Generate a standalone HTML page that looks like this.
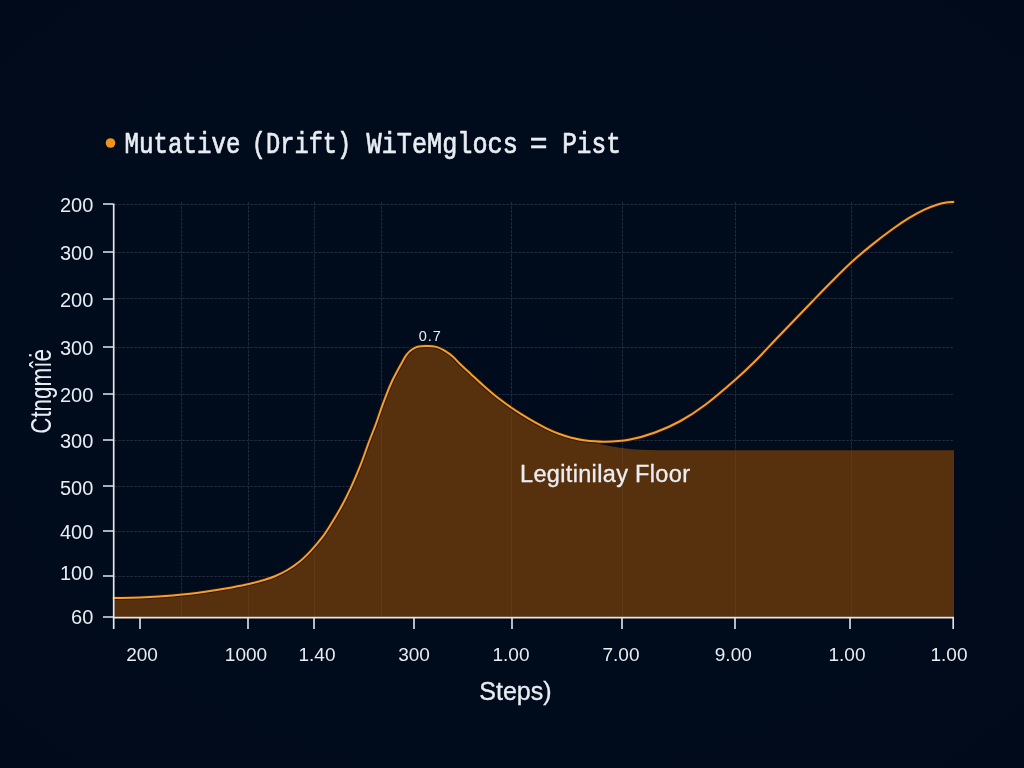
<!DOCTYPE html>
<html>
<head>
<meta charset="utf-8">
<title>Mutative (Drift)</title>
<style>
  html, body { margin: 0; padding: 0; width: 1024px; height: 768px; overflow: hidden; background: #000b1c; }
  svg { display: block; position: absolute; left: 0; top: 0; will-change: transform; }
  text { font-family: "Liberation Sans", sans-serif; fill: #e9edf3; }
  .mono, .mono text { font-family: "Liberation Mono", monospace; }
</style>
</head>
<body>
<svg width="1024" height="768" viewBox="0 0 1024 768">
  <defs>
    <radialGradient id="vig" cx="50%" cy="50%" r="75%">
      <stop offset="0%" stop-color="#000b1d"/>
      <stop offset="65%" stop-color="#000b1c"/>
      <stop offset="100%" stop-color="#000a1a"/>
    </radialGradient>
    <clipPath id="areaclip"><path d="M113.75 598.00 C116.79 597.97 125.96 597.95 132.00 597.80 C138.04 597.65 144.33 597.38 150.00 597.10 C155.67 596.82 160.58 596.53 166.00 596.10 C171.42 595.67 176.83 595.10 182.50 594.50 C188.17 593.90 194.58 593.20 200.00 592.50 C205.42 591.80 209.67 591.15 215.00 590.30 C220.33 589.45 226.17 588.49 232.00 587.40 C237.83 586.31 244.67 584.98 250.00 583.75 C255.33 582.52 259.83 581.25 264.00 580.00 C268.17 578.75 271.08 577.92 275.00 576.25 C278.92 574.58 283.33 572.50 287.50 570.00 C291.67 567.50 296.08 564.48 300.00 561.25 C303.92 558.02 307.33 554.52 311.00 550.60 C314.67 546.68 318.62 542.18 322.00 537.70 C325.38 533.23 327.97 529.03 331.25 523.75 C334.53 518.47 338.41 512.08 341.70 506.00 C344.99 499.93 347.88 494.07 351.00 487.30 C354.12 480.53 357.44 472.87 360.40 465.40 C363.36 457.93 366.15 449.44 368.75 442.50 C371.35 435.56 373.57 430.35 376.00 423.75 C378.43 417.15 380.68 409.86 383.30 402.90 C385.92 395.94 388.58 388.73 391.70 382.00 C394.82 375.27 399.53 367.03 402.00 362.50 C404.47 357.97 404.88 356.92 406.50 354.80 C408.12 352.68 409.85 351.13 411.70 349.80 C413.55 348.47 415.13 347.45 417.60 346.80 C420.07 346.15 423.38 345.88 426.50 345.90 C429.62 345.92 433.30 346.12 436.30 346.90 C439.30 347.68 441.77 349.00 444.50 350.60 C447.23 352.20 450.07 354.23 452.70 356.50 C455.33 358.77 457.21 361.22 460.30 364.20 C463.39 367.18 467.60 371.02 471.25 374.40 C474.90 377.78 478.56 381.25 482.20 384.50 C485.84 387.75 489.72 391.11 493.10 393.90 C496.48 396.69 499.50 398.98 502.50 401.25 C505.50 403.52 507.98 405.34 511.10 407.50 C514.23 409.66 517.48 411.83 521.25 414.20 C525.02 416.57 529.58 419.35 533.75 421.70 C537.92 424.05 542.08 426.29 546.25 428.30 C550.42 430.31 554.58 432.18 558.75 433.75 C562.92 435.32 567.08 436.61 571.25 437.70 C575.42 438.79 580.62 439.67 583.75 440.30 C586.88 440.93 586.46 440.72 590.00 441.50 C593.54 442.28 600.00 443.97 605.00 445.00 C610.00 446.03 614.58 446.95 620.00 447.70 C625.42 448.45 630.83 449.07 637.50 449.50 C644.17 449.93 656.25 450.17 660.00 450.30 L954 450.3 L954 618 L113.75 618 Z"/></clipPath>
  </defs>
  <rect x="0" y="0" width="1024" height="768" fill="url(#vig)"/>

  <!-- grid -->
  <g id="grid" stroke="#273044" stroke-width="0.8" stroke-dasharray="3 1" fill="none">
    <path d="M181.5 202V617M248.5 202V617M314.5 202V617M381.5 202V617M511.5 202V617M622.5 202V617M735.5 202V617M851.5 202V617"/>
    <path d="M114 204.5H954M114 252.5H954M114 298.5H954M114 347.5H954M114 394.5H954M114 440.5H954M114 486.5H954M114 531.5H954M114 576.5H954"/>
  </g>

  <!-- area fill -->
  <path id="area" fill="#57300d" d="M113.75 598.00 C116.79 597.97 125.96 597.95 132.00 597.80 C138.04 597.65 144.33 597.38 150.00 597.10 C155.67 596.82 160.58 596.53 166.00 596.10 C171.42 595.67 176.83 595.10 182.50 594.50 C188.17 593.90 194.58 593.20 200.00 592.50 C205.42 591.80 209.67 591.15 215.00 590.30 C220.33 589.45 226.17 588.49 232.00 587.40 C237.83 586.31 244.67 584.98 250.00 583.75 C255.33 582.52 259.83 581.25 264.00 580.00 C268.17 578.75 271.08 577.92 275.00 576.25 C278.92 574.58 283.33 572.50 287.50 570.00 C291.67 567.50 296.08 564.48 300.00 561.25 C303.92 558.02 307.33 554.52 311.00 550.60 C314.67 546.68 318.62 542.18 322.00 537.70 C325.38 533.23 327.97 529.03 331.25 523.75 C334.53 518.47 338.41 512.08 341.70 506.00 C344.99 499.93 347.88 494.07 351.00 487.30 C354.12 480.53 357.44 472.87 360.40 465.40 C363.36 457.93 366.15 449.44 368.75 442.50 C371.35 435.56 373.57 430.35 376.00 423.75 C378.43 417.15 380.68 409.86 383.30 402.90 C385.92 395.94 388.58 388.73 391.70 382.00 C394.82 375.27 399.53 367.03 402.00 362.50 C404.47 357.97 404.88 356.92 406.50 354.80 C408.12 352.68 409.85 351.13 411.70 349.80 C413.55 348.47 415.13 347.45 417.60 346.80 C420.07 346.15 423.38 345.88 426.50 345.90 C429.62 345.92 433.30 346.12 436.30 346.90 C439.30 347.68 441.77 349.00 444.50 350.60 C447.23 352.20 450.07 354.23 452.70 356.50 C455.33 358.77 457.21 361.22 460.30 364.20 C463.39 367.18 467.60 371.02 471.25 374.40 C474.90 377.78 478.56 381.25 482.20 384.50 C485.84 387.75 489.72 391.11 493.10 393.90 C496.48 396.69 499.50 398.98 502.50 401.25 C505.50 403.52 507.98 405.34 511.10 407.50 C514.23 409.66 517.48 411.83 521.25 414.20 C525.02 416.57 529.58 419.35 533.75 421.70 C537.92 424.05 542.08 426.29 546.25 428.30 C550.42 430.31 554.58 432.18 558.75 433.75 C562.92 435.32 567.08 436.61 571.25 437.70 C575.42 438.79 580.62 439.67 583.75 440.30 C586.88 440.93 586.46 440.72 590.00 441.50 C593.54 442.28 600.00 443.97 605.00 445.00 C610.00 446.03 614.58 446.95 620.00 447.70 C625.42 448.45 630.83 449.07 637.50 449.50 C644.17 449.93 656.25 450.17 660.00 450.30 L954 450.3 L954 618 L113.75 618 Z"/>
  <!-- curve -->
    <g clip-path="url(#areaclip)" stroke="#ffffff" stroke-opacity="0.045" stroke-width="1" fill="none">
    <path d="M181.5 204V617M248.5 204V617M314.5 204V617M381.5 204V617M511.5 204V617M622.5 204V617M735.5 204V617M851.5 204V617"/>
  </g>
  <path id="halo" fill="none" stroke="#2e1300" stroke-opacity="0.85" stroke-width="4" stroke-linecap="round" d="M113.75 598.00 C116.79 597.97 125.96 597.95 132.00 597.80 C138.04 597.65 144.33 597.38 150.00 597.10 C155.67 596.82 160.58 596.53 166.00 596.10 C171.42 595.67 176.83 595.10 182.50 594.50 C188.17 593.90 194.58 593.20 200.00 592.50 C205.42 591.80 209.67 591.15 215.00 590.30 C220.33 589.45 226.17 588.49 232.00 587.40 C237.83 586.31 244.67 584.98 250.00 583.75 C255.33 582.52 259.83 581.25 264.00 580.00 C268.17 578.75 271.08 577.92 275.00 576.25 C278.92 574.58 283.33 572.50 287.50 570.00 C291.67 567.50 296.08 564.48 300.00 561.25 C303.92 558.02 307.33 554.52 311.00 550.60 C314.67 546.68 318.62 542.18 322.00 537.70 C325.38 533.23 327.97 529.03 331.25 523.75 C334.53 518.47 338.41 512.08 341.70 506.00 C344.99 499.93 347.88 494.07 351.00 487.30 C354.12 480.53 357.44 472.87 360.40 465.40 C363.36 457.93 366.15 449.44 368.75 442.50 C371.35 435.56 373.57 430.35 376.00 423.75 C378.43 417.15 380.68 409.86 383.30 402.90 C385.92 395.94 388.58 388.73 391.70 382.00 C394.82 375.27 399.53 367.03 402.00 362.50 C404.47 357.97 404.88 356.92 406.50 354.80 C408.12 352.68 409.85 351.13 411.70 349.80 C413.55 348.47 415.13 347.45 417.60 346.80 C420.07 346.15 423.38 345.88 426.50 345.90 C429.62 345.92 433.30 346.12 436.30 346.90 C439.30 347.68 441.77 349.00 444.50 350.60 C447.23 352.20 450.07 354.23 452.70 356.50 C455.33 358.77 457.21 361.22 460.30 364.20 C463.39 367.18 467.60 371.02 471.25 374.40 C474.90 377.78 478.56 381.25 482.20 384.50 C485.84 387.75 489.72 391.11 493.10 393.90 C496.48 396.69 499.50 398.98 502.50 401.25 C505.50 403.52 507.98 405.34 511.10 407.50 C514.23 409.66 517.48 411.83 521.25 414.20 C525.02 416.57 529.58 419.35 533.75 421.70 C537.92 424.05 542.08 426.29 546.25 428.30 C550.42 430.31 554.58 432.18 558.75 433.75 C562.92 435.32 567.08 436.61 571.25 437.70 C575.42 438.79 578.12 439.62 583.75 440.30 C589.38 440.98 597.29 441.88 605.00 441.75 C612.71 441.62 621.67 441.04 630.00 439.50 C638.33 437.96 646.67 435.54 655.00 432.50 C663.33 429.46 671.67 425.83 680.00 421.25 C688.33 416.67 695.83 411.88 705.00 405.00 C714.17 398.12 726.67 387.29 735.00 380.00 C743.33 372.71 747.50 368.75 755.00 361.25 C762.50 353.75 770.42 345.00 780.00 335.00 C789.58 325.00 803.83 310.20 812.50 301.25 C821.17 292.30 825.47 287.84 832.00 281.30 C838.53 274.76 845.16 267.98 851.70 262.00 C858.24 256.02 864.60 250.77 871.25 245.40 C877.90 240.03 885.35 234.33 891.60 229.80 C897.85 225.27 903.28 221.55 908.75 218.20 C914.22 214.85 919.71 211.93 924.40 209.70 C929.09 207.47 933.26 205.98 936.90 204.80 C940.54 203.62 943.52 203.08 946.25 202.60 C948.98 202.12 952.12 202.02 953.30 201.90"/>
  <path id="curve" fill="none" stroke="#f1a132" stroke-width="2" stroke-linecap="round" d="M113.75 598.00 C116.79 597.97 125.96 597.95 132.00 597.80 C138.04 597.65 144.33 597.38 150.00 597.10 C155.67 596.82 160.58 596.53 166.00 596.10 C171.42 595.67 176.83 595.10 182.50 594.50 C188.17 593.90 194.58 593.20 200.00 592.50 C205.42 591.80 209.67 591.15 215.00 590.30 C220.33 589.45 226.17 588.49 232.00 587.40 C237.83 586.31 244.67 584.98 250.00 583.75 C255.33 582.52 259.83 581.25 264.00 580.00 C268.17 578.75 271.08 577.92 275.00 576.25 C278.92 574.58 283.33 572.50 287.50 570.00 C291.67 567.50 296.08 564.48 300.00 561.25 C303.92 558.02 307.33 554.52 311.00 550.60 C314.67 546.68 318.62 542.18 322.00 537.70 C325.38 533.23 327.97 529.03 331.25 523.75 C334.53 518.47 338.41 512.08 341.70 506.00 C344.99 499.93 347.88 494.07 351.00 487.30 C354.12 480.53 357.44 472.87 360.40 465.40 C363.36 457.93 366.15 449.44 368.75 442.50 C371.35 435.56 373.57 430.35 376.00 423.75 C378.43 417.15 380.68 409.86 383.30 402.90 C385.92 395.94 388.58 388.73 391.70 382.00 C394.82 375.27 399.53 367.03 402.00 362.50 C404.47 357.97 404.88 356.92 406.50 354.80 C408.12 352.68 409.85 351.13 411.70 349.80 C413.55 348.47 415.13 347.45 417.60 346.80 C420.07 346.15 423.38 345.88 426.50 345.90 C429.62 345.92 433.30 346.12 436.30 346.90 C439.30 347.68 441.77 349.00 444.50 350.60 C447.23 352.20 450.07 354.23 452.70 356.50 C455.33 358.77 457.21 361.22 460.30 364.20 C463.39 367.18 467.60 371.02 471.25 374.40 C474.90 377.78 478.56 381.25 482.20 384.50 C485.84 387.75 489.72 391.11 493.10 393.90 C496.48 396.69 499.50 398.98 502.50 401.25 C505.50 403.52 507.98 405.34 511.10 407.50 C514.23 409.66 517.48 411.83 521.25 414.20 C525.02 416.57 529.58 419.35 533.75 421.70 C537.92 424.05 542.08 426.29 546.25 428.30 C550.42 430.31 554.58 432.18 558.75 433.75 C562.92 435.32 567.08 436.61 571.25 437.70 C575.42 438.79 578.12 439.62 583.75 440.30 C589.38 440.98 597.29 441.88 605.00 441.75 C612.71 441.62 621.67 441.04 630.00 439.50 C638.33 437.96 646.67 435.54 655.00 432.50 C663.33 429.46 671.67 425.83 680.00 421.25 C688.33 416.67 695.83 411.88 705.00 405.00 C714.17 398.12 726.67 387.29 735.00 380.00 C743.33 372.71 747.50 368.75 755.00 361.25 C762.50 353.75 770.42 345.00 780.00 335.00 C789.58 325.00 803.83 310.20 812.50 301.25 C821.17 292.30 825.47 287.84 832.00 281.30 C838.53 274.76 845.16 267.98 851.70 262.00 C858.24 256.02 864.60 250.77 871.25 245.40 C877.90 240.03 885.35 234.33 891.60 229.80 C897.85 225.27 903.28 221.55 908.75 218.20 C914.22 214.85 919.71 211.93 924.40 209.70 C929.09 207.47 933.26 205.98 936.90 204.80 C940.54 203.62 943.52 203.08 946.25 202.60 C948.98 202.12 952.12 202.02 953.30 201.90"/>

  <!-- axes -->
  <g id="axes" stroke="#e3e6ec" stroke-width="1.7" fill="none">
    <path d="M113.7 203.6V629"/>
    <path d="M112.9 617.7H954"/>
  </g>
  <g id="yticks" stroke="#e3e6ec" stroke-width="1.6">
    <path d="M103 204H113M103 252H113M103 299H113M103 347H113M103 394H113M103 440H113M103 486H113M103 531H113M103 576H113M103 617H113"/>
  </g>
  <g id="xticks" stroke="#e3e6ec" stroke-width="1.6">
    <path d="M140 617V629M248 617V629M314 617V629M414 617V629M512 617V629M622 617V629M735 617V629M850 617V629M953.2 617V629"/>
  </g>

  <!-- y labels -->
  <g id="ylabels" font-size="20" text-anchor="end">
    <text x="93.3" y="211.6">200</text>
    <text x="93.3" y="259.6">300</text>
    <text x="93.3" y="306.6">200</text>
    <text x="93.3" y="354.6">300</text>
    <text x="93.3" y="401.6">200</text>
    <text x="93.3" y="448">300</text>
    <text x="93.3" y="495">500</text>
    <text x="93.3" y="538.5">400</text>
    <text x="93.3" y="580.2">100</text>
    <text x="93.3" y="623.6">60</text>
  </g>
  <!-- x labels -->
  <g id="xlabels" font-size="19" text-anchor="middle">
    <text x="142" y="661.2">200</text>
    <text x="246" y="661.2">1000</text>
    <text x="317" y="661.2">1.40</text>
    <text x="414" y="661.2">300</text>
    <text x="511" y="661.2">1.00</text>
    <text x="621" y="661.2">7.00</text>
    <text x="733.3" y="661.2">9.00</text>
    <text x="847" y="661.2">1.00</text>
    <text x="949" y="661.2">1.00</text>
  </g>

  <text x="479.3" y="699.7" font-size="25" stroke="#e9edf3" stroke-width="0.35">Steps)</text>
  <text x="520" y="481.6" font-size="23.5" textLength="170" lengthAdjust="spacing" fill="#f4f6f9" stroke="#f4f6f9" stroke-width="0.3">Legitinilay Floor</text>
  <text x="430.3" y="341.3" font-size="14.5" letter-spacing="1" text-anchor="middle">0.7</text>
  <text transform="translate(51.2,433.8) rotate(-90) scale(0.773,1)" font-size="29">Ctngm&#238;&#279;</text>

  <!-- title -->
  <circle cx="110.5" cy="143" r="4.8" fill="#f0921c"/>
  <g id="title" class="mono" font-size="29.6" stroke="#e9edf3" stroke-width="0.7" stroke-linejoin="round">
    <text transform="translate(124.6,152.8) scale(0.815,1)">Mutative</text>
    <text transform="translate(251.8,152.8) scale(0.8,1)">(Drift)</text>
    <text transform="translate(366.6,152.8) scale(0.852,1)">WiTeMglocs</text>
    <text transform="translate(529.8,152.8) scale(1.0,1)">=</text>
    <text transform="translate(562.2,152.8) scale(0.826,1)">Pist</text>
  </g>
</svg>
</body>
</html>
